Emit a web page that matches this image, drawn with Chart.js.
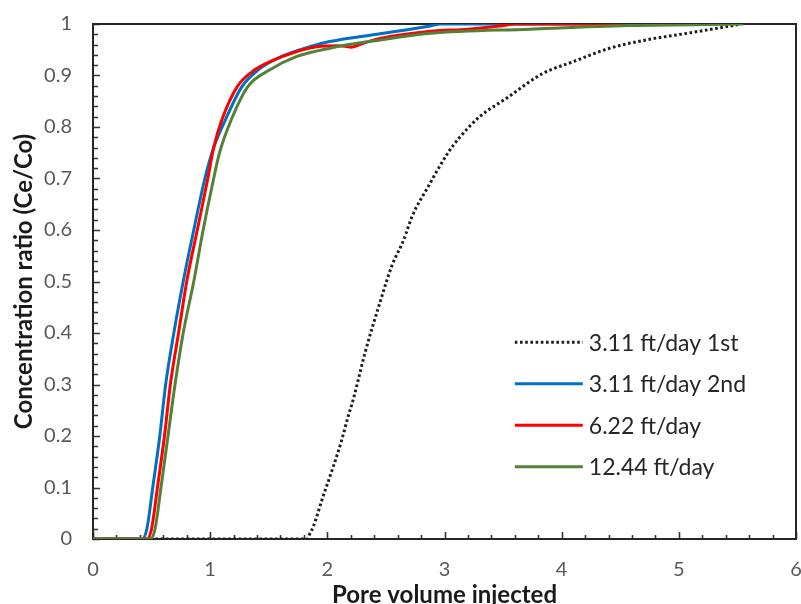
<!DOCTYPE html>
<html>
<head>
<meta charset="utf-8">
<script src="https://cdn.jsdelivr.net/npm/chart.js@4.4.1/dist/chart.umd.min.js"></script>
<style>
    html, body { margin: 0; padding: 0; background: #fff; }
    #wrap { width: 801px; height: 604px; }
</style>
</head>
<body>
<div id="wrap"><canvas id="chart" width="801" height="604"></canvas></div>
<script>
// Breakthrough curves
const seriesLabels = ['3.11 ft/day 1st', '3.11 ft/day 2nd', '6.22 ft/day', '12.44 ft/day'];

const run1X = [0, 1.83, 1.85, 1.88, 1.96, 2.05, 2.12, 2.18, 2.22, 2.32, 2.45, 2.55, 2.65, 2.73, 2.85, 3.03, 3.13, 3.3, 3.53, 3.84, 4.1, 4.41, 4.72, 5.07, 5.41, 5.53];
const run1Y = [0, 0, 0.01, 0.024, 0.08, 0.14, 0.19, 0.24, 0.27, 0.36, 0.46, 0.53, 0.58, 0.63, 0.68, 0.75, 0.78, 0.82, 0.856, 0.904, 0.927, 0.953, 0.969, 0.982, 0.995, 1];

const run2X = [0, 0.42, 0.46, 0.51, 0.57, 0.62, 0.69, 0.77, 0.86, 0.955, 1.03, 1.13, 1.27, 1.41, 1.61, 1.85, 2.02, 2.45, 2.88, 2.96, 4.5];
const run2Y = [0, 0, 0.02, 0.1, 0.2, 0.3, 0.4, 0.5, 0.6, 0.7, 0.76, 0.814, 0.878, 0.911, 0.937, 0.956, 0.966, 0.981, 0.996, 1, 1];

const rate622X = [0, 0.46, 0.5, 0.55, 0.61, 0.66, 0.73, 0.8, 0.89, 0.98, 1.03, 1.1, 1.23, 1.38, 1.62, 1.91, 2.1, 2.2, 2.3, 2.45, 2.88, 3.2, 3.47, 3.6, 5];
const rate622Y = [0, 0, 0.02, 0.1, 0.2, 0.3, 0.4, 0.5, 0.6, 0.7, 0.76, 0.814, 0.878, 0.911, 0.937, 0.956, 0.958, 0.955, 0.962, 0.972, 0.986, 0.99, 0.996, 1, 1];

const rate1244X = [0, 0.49, 0.53, 0.58, 0.64, 0.7, 0.77, 0.86, 0.94, 1.03, 1.08, 1.18, 1.32, 1.51, 1.74, 2.02, 2.45, 2.88, 3.73, 4.58, 5.55];
const rate1244Y = [0, 0, 0.02, 0.1, 0.2, 0.3, 0.4, 0.5, 0.6, 0.7, 0.75, 0.814, 0.878, 0.911, 0.937, 0.953, 0.969, 0.982, 0.99, 0.997, 1];

const xTicks = [0, 1, 2, 3, 4, 5, 6];
const yTicks = [0, 0.1, 0.2, 0.3, 0.4, 0.5, 0.6, 0.7, 0.8, 0.9, 1];

const fontFamily = 'Lato, "Open Sans", sans-serif';

function toPoints(xs, ys) {
    return xs.map((x, i) => ({ x: x, y: ys[i] }));
}

// box round the plot plus the small inward tick marks
const frameAndTicks = {
    id: 'frameAndTicks',
    beforeDatasetsDraw(chart) {
        const { ctx, chartArea: a, scales: { x, y } } = chart;
        ctx.save();
        ctx.strokeStyle = '#333';
        ctx.lineWidth = 1.6;
        ctx.beginPath();
        for (let i = 0; i <= 30; i++) {
            const px = Math.round(x.getPixelForValue(i * 0.2)) + 0.5;
            const len = i % 5 === 0 ? 7 : 4;
            ctx.moveTo(px, a.bottom);
            ctx.lineTo(px, a.bottom - len);
        }
        for (let i = 0; i <= 50; i++) {
            const py = Math.round(y.getPixelForValue(i * 0.02)) + 0.5;
            const len = i % 5 === 0 ? 7 : 5;
            ctx.moveTo(a.left, py);
            ctx.lineTo(a.left + len, py);
        }
        ctx.stroke();
        ctx.lineWidth = 2;
        ctx.strokeStyle = '#262626';
        ctx.strokeRect(a.left, a.top, a.right - a.left, a.bottom - a.top);
        ctx.restore();
    }
};

// legend drawn inside the plot, lower right
const insideLegend = {
    id: 'insideLegend',
    afterDraw(chart) {
        const { ctx, chartArea: a } = chart;
        const x0 = a.left + (a.right - a.left) * 0.6;
        const y0 = a.top + (a.bottom - a.top) * 0.618;
        const rowGap = 41.5;
        ctx.save();
        ctx.font = '23px ' + fontFamily;
        ctx.textBaseline = 'middle';
        chart.data.datasets.forEach((ds, i) => {
            const yy = y0 + i * rowGap;
            ctx.strokeStyle = ds.borderColor;
            ctx.lineWidth = ds.borderWidth;
            ctx.setLineDash(ds.borderDash || []);
            ctx.beginPath();
            ctx.moveTo(x0, yy);
            ctx.lineTo(x0 + 68, yy);
            ctx.stroke();
            ctx.setLineDash([]);
            ctx.fillStyle = '#262626';
            ctx.fillText(ds.label, x0 + 74, yy + 1);
        });
        ctx.restore();
    }
};

const canvas = document.getElementById('chart');

const chart = new Chart(canvas, {
    type: 'line',
    data: {
        datasets: [{
            label: seriesLabels[0],
            data: toPoints(run1X, run1Y),
            borderColor: '#1e1e1e',
            borderWidth: 3,
            borderDash: [2.6, 2.6],
            order: 4
        }, {
            label: seriesLabels[1],
            data: toPoints(run2X, run2Y),
            borderColor: '#0070C0',
            borderWidth: 3,
            order: 3
        }, {
            label: seriesLabels[2],
            data: toPoints(rate622X, rate622Y),
            borderColor: '#FF0000',
            borderWidth: 3,
            order: 2
        }, {
            label: seriesLabels[3],
            data: toPoints(rate1244X, rate1244Y),
            borderColor: '#538135',
            borderWidth: 3,
            order: 1
        }]
    },
    options: {
        responsive: false,
        animation: false,
        layout: { padding: { top: 24, right: 5, left: 0, bottom: 0 } },
        elements: {
            point: { radius: 0 },
            line: { cubicInterpolationMode: 'monotone', borderCapStyle: 'butt' }
        },
        plugins: {
            legend: { display: false },
            tooltip: { enabled: false }
        },
        scales: {
            x: {
                type: 'linear',
                min: 0,
                max: 6,
                afterFit: s => {
                    s.height = 65;
                    s.paddingLeft = 0;
                    s.paddingRight = 0;
                },
                afterBuildTicks: s => { s.ticks = xTicks.map(v => ({ value: v })); },
                grid: { display: false },
                border: { display: false },
                ticks: {
                    padding: 11,
                    color: '#595959',
                    font: { family: fontFamily, size: 20 },
                    maxRotation: 0
                },
                title: {
                    display: true,
                    text: 'Pore volume injected',
                    color: '#1a1a1a',
                    padding: { top: 0, bottom: -6 },
                    font: { family: fontFamily, size: 24, weight: 'bold' }
                }
            },
            y: {
                min: 0,
                max: 1,
                afterFit: s => {
                    s.width = 93;
                    s.paddingTop = 0;
                    s.paddingBottom = 0;
                },
                afterBuildTicks: s => { s.ticks = yTicks.map(v => ({ value: v })); },
                grid: { display: false },
                border: { display: false },
                ticks: {
                    padding: 13,
                    color: '#595959',
                    font: { family: fontFamily, size: 20 },
                    callback: v => String(Math.round(v * 10) / 10)
                },
                title: {
                    display: true,
                    text: 'Concentration ratio (Ce/Co)',
                    color: '#1a1a1a',
                    padding: { top: 10, bottom: 0 },
                    font: { family: fontFamily, size: 24, weight: 'bold' }
                }
            }
        }
    },
    plugins: [frameAndTicks, insideLegend]
});
</script>
</body>
</html>
